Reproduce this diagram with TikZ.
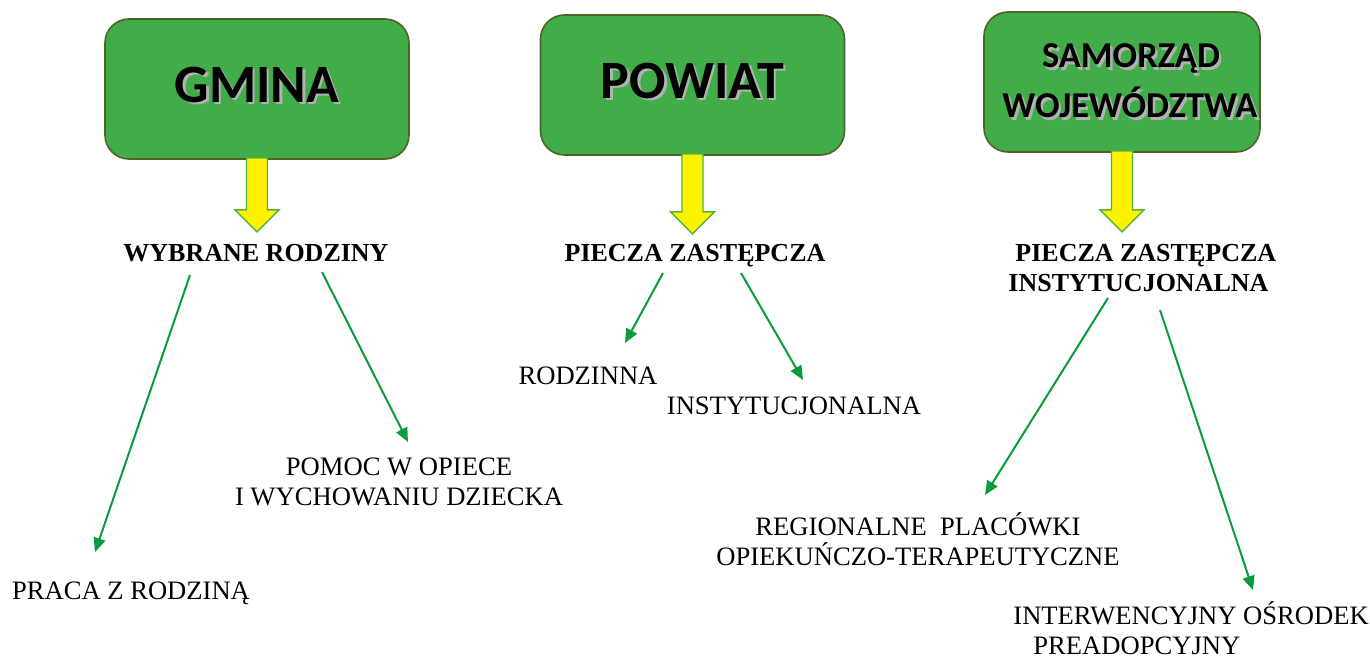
\documentclass[tikz,border=0pt]{standalone}
\usepackage{fontspec}
\setmainfont{Liberation Serif}
\newfontfamily\boxfont{Carlito}
\usetikzlibrary{arrows.meta, calc}
\definecolor{boxgreen}{RGB}{65,173,73}
\definecolor{boxedge}{RGB}{79,98,40}
\definecolor{linkgreen}{RGB}{10,155,58}
\definecolor{arrowedge}{RGB}{80,180,60}
\newcommand\shtext[1]{\leavevmode\rlap{\hspace{1.2pt}\raisebox{-1.2pt}{\textcolor{black!30}{#1}}}#1}

\begin{document}
\begin{tikzpicture}[
	x=0.5pt, y=-0.5pt,
	box/.style = {draw=boxedge, line width=0.8pt, fill=boxgreen, rounded corners=12pt,
		minimum height=70pt, align=center, inner sep=0pt},
	bigtitle/.style = {font=\boxfont\bfseries\fontsize{27}{30}\selectfont},
	midtitle/.style = {font=\boxfont\bfseries\fontsize{18.2}{25}\selectfont},
	head/.style = {font=\bfseries\fontsize{13}{15}\selectfont, anchor=base, inner sep=0pt},
	leaf/.style = {font=\fontsize{13.3}{15}\selectfont, anchor=base, inner sep=0pt},
	down/.style = {draw=arrowedge, line width=0.7pt, fill=yellow},
	link/.style = {draw=linkgreen, line width=1pt, -{Triangle[length=7pt, width=6pt]}}
     ]
	\useasboundingbox (0,0) rectangle (1370,659);
%
	\node[box, bigtitle, minimum width=152pt] (gmina) at (257,89) {\raisebox{4.5pt}{\shtext{GMINA}}};
	\node[box, bigtitle, minimum width=152pt] (powiat) at (692.5,85) {\raisebox{4.5pt}{\shtext{POWIAT}}};
	\node[box, midtitle, minimum width=138pt] (samorzad) at (1122,82)
		{\hspace*{9pt}\shtext{SAMORZĄD}\\\hspace*{8pt}\shtext{WOJEWÓDZTWA}};
%
	\node[head] (wybrane) at (256,261) {WYBRANE RODZINY};
	\node[head] (piecza) at (695,261) {PIECZA ZASTĘPCZA};
	\node[head, anchor=base west, align=left] (pieczainst) at (1008,291)
		{\hspace*{3.5pt}PIECZA ZASTĘPCZA\\INSTYTUCJONALNA};
%
	\node[leaf] (rodzinna) at (588,384) {RODZINNA};
	\node[leaf] (instyt) at (794,414) {INSTYTUCJONALNA};
	\node[leaf, align=center] (pomoc) at (399,505) {POMOC W OPIECE\\I WYCHOWANIU DZIECKA};
	\node[leaf] (praca) at (131,599) {PRACA Z RODZINĄ};
	\node[leaf, align=center] (placowki) at (918,565) {REGIONALNE\ \ PLACÓWKI\\OPIEKUŃCZO-TERAPEUTYCZNE};
	\node[leaf, anchor=base west, align=left] (osrodek) at (1013,654)
		{INTERWENCYJNY OŚRODEK\\\hspace*{10pt}PREADOPCYJNY};
%
	\foreach \b/\l in {gmina/72, powiat/78, samorzad/79}
		\draw[down] ($(\b.south)+(-10.5,-2)$) -- ($(\b.south)+(10.5,-2)$)
			-- ($(\b.south)+(10.5,\l-22)$) -- ($(\b.south)+(22,\l-22)$)
			-- ($(\b.south)+(0,\l)$) -- ($(\b.south)+(-22,\l-22)$)
			-- ($(\b.south)+(-10.5,\l-22)$) -- cycle;
%
	\coordinate (wr1) at (190,275);   \coordinate (pr1) at (95,552);
	\coordinate (wr2) at (322,272);   \coordinate (po1) at (408,442);
	\coordinate (pz1) at (663,273);   \coordinate (ro1) at (625,343);
	\coordinate (pz2) at (741,273);   \coordinate (in1) at (803,380);
	\coordinate (pi1) at (1108,298);  \coordinate (pl1) at (985,495);
	\coordinate (pi2) at (1160,310);  \coordinate (os1) at (1253,590);
%
	\draw[link] (wr1) -- (pr1);
	\draw[link] (wr2) -- (po1);
	\draw[link] (pz1) -- (ro1);
	\draw[link] (pz2) -- (in1);
	\draw[link] (pi1) -- (pl1);
	\draw[link] (pi2) -- (os1);
\end{tikzpicture}
\end{document}
